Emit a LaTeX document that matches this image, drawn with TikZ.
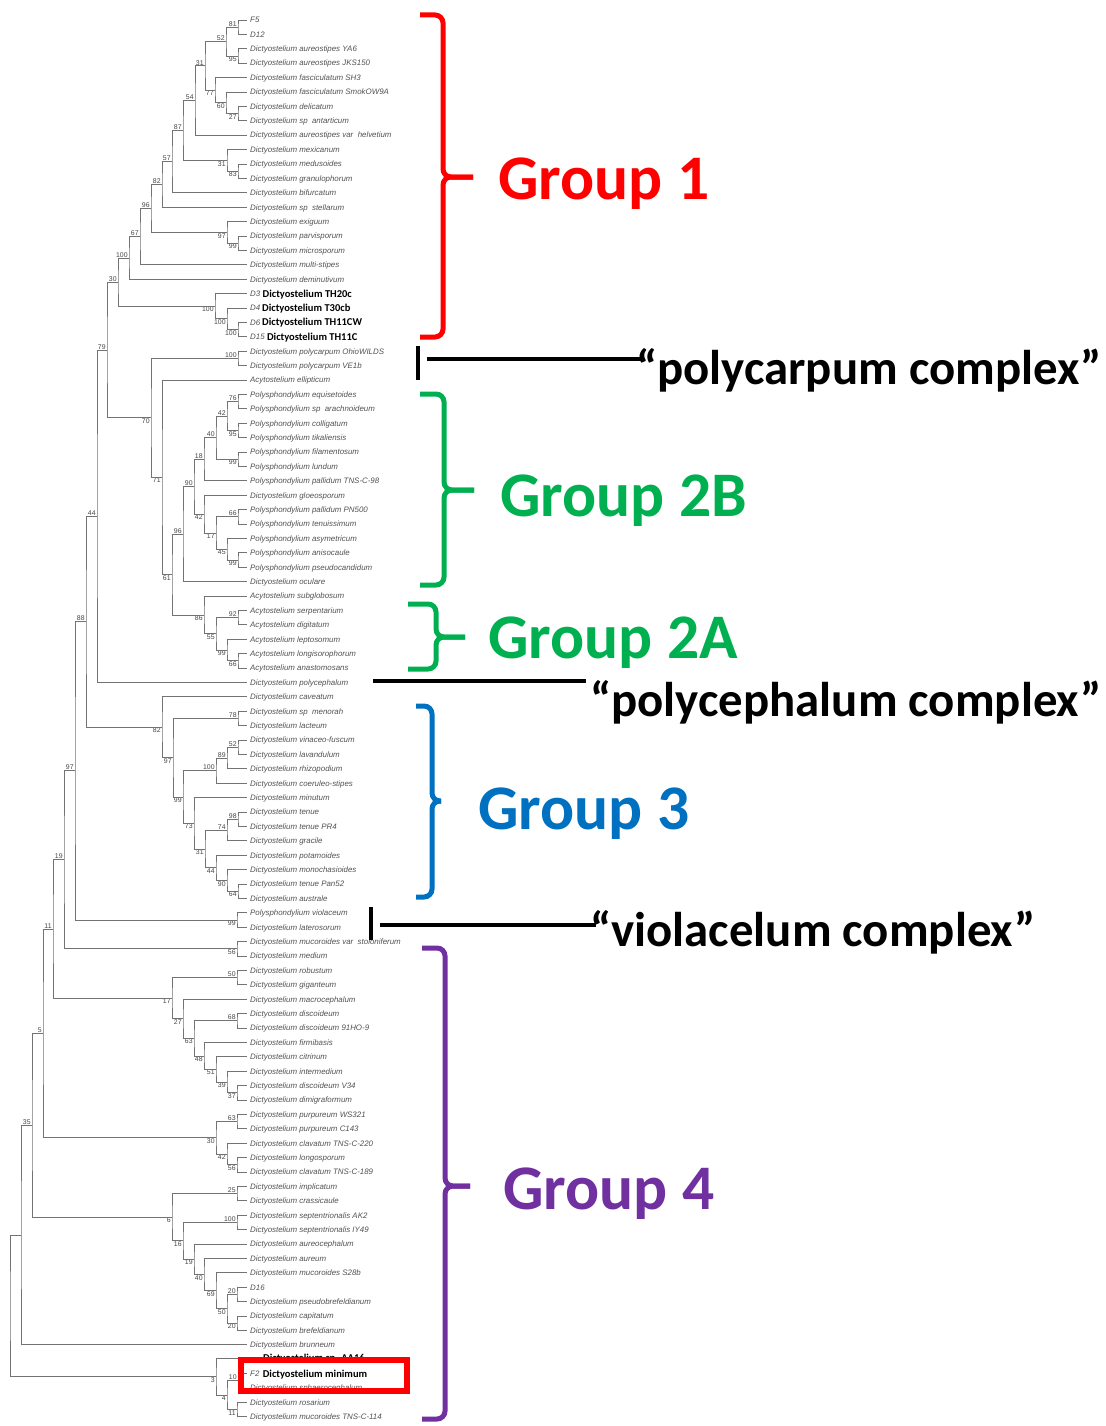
\documentclass[tikz,border=0pt]{standalone}
\usepackage{fontspec}
\setmainfont{Liberation Sans}
\newfontfamily\carl{Carlito}
\usetikzlibrary{calc}
\definecolor{gred}{HTML}{FF0000}
\definecolor{ggreen}{HTML}{00B050}
\definecolor{gblue}{HTML}{0070C0}
\definecolor{gpurple}{HTML}{7030A0}
\tikzset{
 br/.style={draw=black!55, line width=0.8pt},
 lfs/.style={font=\fontsize{7.9}{8}\selectfont\itshape, text=black!68, inner sep=0pt, anchor=base west},
 bs/.style={font=\fontsize{6.9}{7}\selectfont, text=black!72, inner sep=0.4pt},
 boldlf/.style={font=\carl\bfseries\fontsize{10.5}{11}\selectfont, text=black, inner sep=0pt, anchor=base west},
 grp/.style={font=\carl\bfseries\fontsize{63.5}{64}\selectfont, inner sep=0pt, anchor=base west},
 cplx/.style={font=\carl\bfseries\fontsize{48.8}{49}\selectfont, inner sep=0pt, anchor=base west},
 brace/.style={line width=5pt, rounded corners=8pt},
 bar/.style={line width=4.5pt, draw=black},
}
\def\Dy{Dictyostelium}
\def\Py{Polysphondylium}
\def\Ay{Acytostelium}
% leaf: name, index, text
\newcommand\lv[3]{\coordinate (#1) at (247,{20+14.4*(#2-1)});
 \node[lfs] (t#1) at (250,{22.8+14.4*(#2-1)}) {#3};}
% bold leaf: name, index, prefix, bold text, gap
\newcommand\lbd[5]{\coordinate (#1) at (247,{20+14.4*(#2-1)});
 \node[lfs] (p#1) at (250,{22.8+14.4*(#2-1)}) {#3};
 \node[boldlf] (t#1) at ([xshift=#5pt,yshift=-0.6pt]p#1.base east) {#4};}
% join: name, x, child1, child2
\newcommand\jn[4]{\path let \p1=($(#3)!0.5!(#4)$) in coordinate (#1) at (#2pt,\y1);
 \draw[br] (#3) -| (#1) |- (#4);}
\newcommand\ja[5]{\jn{#1}{#2}{#3}{#4}\node[bs, anchor=south east] (b#1) at ([xshift=-0.8pt,yshift=0.2pt]#1) {#5};}
\newcommand\jb[5]{\jn{#1}{#2}{#3}{#4}\node[bs, anchor=north east] (b#1) at ([xshift=-0.8pt,yshift=-0.2pt]#1) {#5};}
\begin{document}
\begin{tikzpicture}[x=1pt,y=-1pt]
\fill[white] (0,0) rectangle (1105,1426);
\useasboundingbox (0,0) rectangle (1105,1426);
% ---------------- leaves
\lv{L1}{1}{F5}
\lv{L2}{2}{D12}
\lv{L3}{3}{\Dy\ aureostipes YA6}
\lv{L4}{4}{\Dy\ aureostipes JKS150}
\lv{L5}{5}{\Dy\ fasciculatum SH3}
\lv{L6}{6}{\Dy\ fasciculatum SmokOW9A}
\lv{L7}{7}{\Dy\ delicatum}
\lv{L8}{8}{\Dy\ sp~~antarticum}
\lv{L9}{9}{\Dy\ aureostipes var~~helvetium}
\lv{L10}{10}{\Dy\ mexicanum}
\lv{L11}{11}{\Dy\ medusoides}
\lv{L12}{12}{\Dy\ granulophorum}
\lv{L13}{13}{\Dy\ bifurcatum}
\lv{L14}{14}{\Dy\ sp~~stellarum}
\lv{L15}{15}{\Dy\ exiguum}
\lv{L16}{16}{\Dy\ parvisporum}
\lv{L17}{17}{\Dy\ microsporum}
\lv{L18}{18}{\Dy\ multi-stipes}
\lv{L19}{19}{\Dy\ deminutivum}
\lbd{L20}{20}{D3}{Dictyostelium TH20c}{2}
\lbd{L21}{21}{D4}{Dictyostelium T30cb}{1.5}
\lbd{L22}{22}{D6}{Dictyostelium TH11CW}{1.5}
\lbd{L23}{23}{D15}{Dictyostelium TH11C}{2}
\lv{L24}{24}{\Dy\ polycarpum OhioWILDS}
\lv{L25}{25}{\Dy\ polycarpum VE1b}
\lv{L26}{26}{\Ay\ ellipticum}
\lv{L27}{27}{\Py\ equisetoides}
\lv{L28}{28}{\Py\ sp~~arachnoideum}
\lv{L29}{29}{\Py\ colligatum}
\lv{L30}{30}{\Py\ tikaliensis}
\lv{L31}{31}{\Py\ filamentosum}
\lv{L32}{32}{\Py\ lundum}
\lv{L33}{33}{\Py\ pallidum TNS-C-98}
\lv{L34}{34}{\Dy\ gloeosporum}
\lv{L35}{35}{\Py\ pallidum PN500}
\lv{L36}{36}{\Py\ tenuissimum}
\lv{L37}{37}{\Py\ asymetricum}
\lv{L38}{38}{\Py\ anisocaule}
\lv{L39}{39}{\Py\ pseudocandidum}
\lv{L40}{40}{\Dy\ oculare}
\lv{L41}{41}{\Ay\ subglobosum}
\lv{L42}{42}{\Ay\ serpentarium}
\lv{L43}{43}{\Ay\ digitatum}
\lv{L44}{44}{\Ay\ leptosomum}
\lv{L45}{45}{\Ay\ longisorophorum}
\lv{L46}{46}{\Ay\ anastomosans}
\lv{L47}{47}{\Dy\ polycephalum}
\lv{L48}{48}{\Dy\ caveatum}
\lv{L49}{49}{\Dy\ sp~~menorah}
\lv{L50}{50}{\Dy\ lacteum}
\lv{L51}{51}{\Dy\ vinaceo-fuscum}
\lv{L52}{52}{\Dy\ lavandulum}
\lv{L53}{53}{\Dy\ rhizopodium}
\lv{L54}{54}{\Dy\ coeruleo-stipes}
\lv{L55}{55}{\Dy\ minutum}
\lv{L56}{56}{\Dy\ tenue}
\lv{L57}{57}{\Dy\ tenue PR4}
\lv{L58}{58}{\Dy\ gracile}
\lv{L59}{59}{\Dy\ potamoides}
\lv{L60}{60}{\Dy\ monochasioides}
\lv{L61}{61}{\Dy\ tenue Pan52}
\lv{L62}{62}{\Dy\ australe}
\lv{L63}{63}{\Py\ violaceum}
\lv{L64}{64}{\Dy\ laterosorum}
\lv{L65}{65}{\Dy\ mucoroides var~~stoloniferum}
\lv{L66}{66}{\Dy\ medium}
\lv{L67}{67}{\Dy\ robustum}
\lv{L68}{68}{\Dy\ giganteum}
\lv{L69}{69}{\Dy\ macrocephalum}
\lv{L70}{70}{\Dy\ discoideum}
\lv{L71}{71}{\Dy\ discoideum 91HO-9}
\lv{L72}{72}{\Dy\ firmibasis}
\lv{L73}{73}{\Dy\ citrinum}
\lv{L74}{74}{\Dy\ intermedium}
\lv{L75}{75}{\Dy\ discoideum V34}
\lv{L76}{76}{\Dy\ dimigraformum}
\lv{L77}{77}{\Dy\ purpureum WS321}
\lv{L78}{78}{\Dy\ purpureum C143}
\lv{L79}{79}{\Dy\ clavatum TNS-C-220}
\lv{L80}{80}{\Dy\ longosporum}
\lv{L81}{81}{\Dy\ clavatum TNS-C-189}
\lv{L82}{82}{\Dy\ implicatum}
\lv{L83}{83}{\Dy\ crassicaule}
\lv{L84}{84}{\Dy\ septentrionalis AK2}
\lv{L85}{85}{\Dy\ septentrionalis IY49}
\lv{L86}{86}{\Dy\ aureocephalum}
\lv{L87}{87}{\Dy\ aureum}
\lv{L88}{88}{\Dy\ mucoroides S28b}
\lv{L89}{89}{D16}
\lv{L90}{90}{\Dy\ pseudobrefeldianum}
\lv{L91}{91}{\Dy\ capitatum}
\lv{L92}{92}{\Dy\ brefeldianum}
\lv{L93}{93}{\Dy\ brunneum}
\coordinate (L94) at (247,1358.2);
\node[boldlf] (tL94) at (263,1361) {Dictyostelium sp. AA16};
\lbd{L95}{95}{F2}{Dictyostelium minimum}{3}
\lv{L96}{96}{\Dy\ sphaerocephalum}
\lv{L97}{97}{\Dy\ rosarium}
\lv{L98}{98}{\Dy\ mucoroides TNS-C-114}
% ---------------- group 1
\ja{a81}{238}{L1}{L2}{81}
\jb{a95}{238}{L3}{L4}{95}
\ja{a52}{226}{a81}{a95}{52}
\jb{a27}{238}{L7}{L8}{27}
\jb{a60}{226}{L6}{a27}{60}
\jb{a77}{215}{L5}{a60}{77}
\ja{a31}{205}{a52}{a77}{31}
\ja{a54}{195}{a31}{L9}{54}
\jb{a83}{238}{L11}{L12}{83}
\jb{a31b}{227}{L10}{a83}{31}
\ja{a87}{183}{a54}{a31b}{87}
\ja{a57}{172}{a87}{L13}{57}
\ja{a82}{162}{a57}{L14}{82}
\jb{a99}{238}{L16}{L17}{99}
\jb{a97}{227}{L15}{a99}{97}
\ja{a96}{151}{a82}{a97}{96}
\ja{a67}{140}{a96}{L18}{67}
\ja{a100}{129}{a67}{L19}{100}
\jb{t100c}{238}{L22}{L23}{100}
\jb{t100b}{227}{L21}{t100c}{100}
\jb{t100a}{215}{L20}{t100b}{100}
\ja{a30}{118}{a100}{t100a}{30}
\ja{pc100}{238}{L24}{L25}{100}
% ---------------- group 2
\ja{p76}{238}{L27}{L28}{76}
\jb{p95}{238}{L29}{L30}{95}
\ja{p42}{227}{p76}{p95}{42}
\jb{p99}{238}{L31}{L32}{99}
\ja{p40}{216}{p42}{p99}{40}
\ja{p18}{204}{p40}{L33}{18}
\ja{p66}{238}{L35}{L36}{66}
\jb{p99b}{238}{L38}{L39}{99}
\jb{p45}{227}{L37}{p99b}{45}
\jb{p17}{216}{p66}{p45}{17}
\jb{p42b}{204}{L34}{p17}{42}
\ja{p90}{194}{p18}{p42b}{90}
\ja{p96}{183}{p90}{L40}{96}
\ja{c92}{238}{L42}{L43}{92}
\jb{c66}{238}{L45}{L46}{66}
\jb{c99}{227}{L44}{c66}{99}
\jb{c55}{216}{c92}{c99}{55}
\jb{c86}{204}{L41}{c55}{86}
\jb{p61}{172}{p96}{c86}{61}
\jb{p71}{162}{L26}{p61}{71}
\jb{p70}{151}{pc100}{p71}{70}
\ja{a79}{107}{a30}{p70}{79}
\ja{n44}{97}{a79}{L47}{44}
% ---------------- group 3
\ja{g78}{238}{L49}{L50}{78}
\ja{g52}{238}{L51}{L52}{52}
\ja{g89}{227}{g52}{L53}{89}
\ja{g100}{216}{g89}{L54}{100}
\ja{g98}{238}{L56}{L57}{98}
\ja{g74}{227}{g98}{L58}{74}
\jb{g64}{238}{L61}{L62}{64}
\jb{g90}{227}{L60}{g64}{90}
\jb{g44}{216}{L59}{g90}{44}
\jb{g31}{205}{g74}{g44}{31}
\jb{g73}{194}{L55}{g31}{73}
\jb{g99}{183}{g100}{g73}{99}
\jb{g97}{173}{g78}{g99}{97}
\jb{g82}{162}{L48}{g97}{82}
\ja{n88}{86}{n44}{g82}{88}
\jb{v99}{237}{L63}{L64}{99}
\ja{n97}{75}{n88}{v99}{97}
\jb{s56}{237}{L65}{L66}{56}
\ja{n19}{64}{n97}{s56}{19}
% ---------------- group 4
\ja{r50}{237}{L67}{L68}{50}
\ja{r68}{237}{L70}{L71}{68}
\jb{r37}{237}{L75}{L76}{37}
\jb{r39}{227}{L74}{r37}{39}
\jb{r51}{216}{L73}{r39}{51}
\jb{r48}{204}{L72}{r51}{48}
\jb{r63}{194}{r68}{r48}{63}
\jb{r27}{183}{L69}{r63}{27}
\jb{r17}{172}{r50}{r27}{17}
\ja{n11}{53}{n19}{r17}{11}
\ja{q63}{237}{L77}{L78}{63}
\jb{q56}{237}{L80}{L81}{56}
\jb{q42}{227}{L79}{q56}{42}
\jb{q30}{216}{q63}{q42}{30}
\ja{n5}{43}{n11}{q30}{5}
\ja{w25}{237}{L82}{L83}{25}
\ja{w100}{237}{L84}{L85}{100}
\ja{w20a}{237}{L89}{L90}{20}
\jb{w20b}{237}{L91}{L92}{20}
\jb{w50}{227}{w20a}{w20b}{50}
\jb{w69}{216}{L88}{w50}{69}
\jb{w40}{204}{L87}{w69}{40}
\jb{w19}{194}{L86}{w40}{19}
\jb{w16}{183}{w100}{w19}{16}
\jb{w6}{172}{w25}{w16}{6}
\ja{n35}{32}{n5}{w6}{35}
\jn{nb}{21}{n35}{L93}
\ja{m10}{238}{L95}{L96}{10}
\jb{m11}{237}{L97}{L98}{11}
\jb{m4}{227}{m10}{m11}{4}
\jb{m3}{216}{L94}{m4}{3}
\jn{root}{10}{nb}{m3}
% ---------------- highlight box
\draw[gred, line width=6pt] (241,1360) rectangle (407,1391);
% ---------------- braces
\draw[brace, gred] (420,15) -- (443,15) -- (443,177) -- (473,177);
\draw[brace, gred] (473,177) -- (443,177) -- (443,337) -- (420,337);
\draw[brace, ggreen] (420,394) -- (444,394) -- (444,490) -- (474,490);
\draw[brace, ggreen] (474,490) -- (444,490) -- (444,585) -- (420,585);
\draw[brace, ggreen] (408,604) -- (436,604) -- (436,637) -- (465,637);
\draw[brace, ggreen] (465,637) -- (436,637) -- (436,669) -- (408,669);
\draw[brace, gblue] (416,706) -- (432,706) -- (432,801) -- (441,801);
\draw[brace, gblue] (441,801) -- (432,801) -- (432,897) -- (416,897);
\draw[brace, gpurple] (422,948) -- (445,948) -- (445,1186) -- (470,1186);
\draw[brace, gpurple] (470,1186) -- (445,1186) -- (445,1419) -- (422,1419);
% ---------------- group labels
\node[grp, text=gred] (g1) at (498,199) {Group 1};
\node[grp, text=ggreen] (g2b) at (500,516) {Group 2B};
\node[grp, text=ggreen] (g2a) at (488,658) {Group 2A};
\node[grp, text=gblue] (g3) at (478,829) {Group 3};
\node[grp, text=gpurple] (g4) at (503,1209) {Group 4};
% ---------------- complexes
\node[cplx] (cx1) at (636,384) {“polycarpum complex”};
\node[cplx] (cx2) at (590,716) {“polycephalum complex”};
\node[cplx] (cx3) at (590,946) {“violacelum complex”};
\coordinate (k1a) at (418,346); \coordinate (k1b) at (418,380);
\coordinate (k1c) at (427,359); \coordinate (k1d) at (641,359);
\draw[bar] (k1a) -- (k1b);
\draw[bar] (k1c) -- (k1d);
\coordinate (k2a) at (373,681); \coordinate (k2b) at (586,681);
\draw[bar] (k2a) -- (k2b);
\coordinate (k3a) at (371,907); \coordinate (k3b) at (371,940);
\coordinate (k3c) at (380,925); \coordinate (k3d) at (596,925);
\draw[bar] (k3a) -- (k3b);
\draw[bar] (k3c) -- (k3d);
\end{tikzpicture}
\end{document}
